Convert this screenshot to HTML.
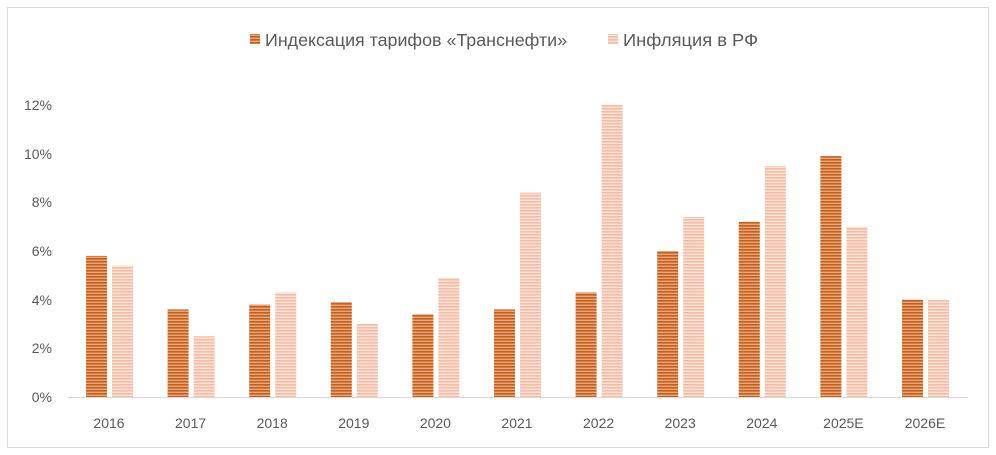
<!DOCTYPE html>
<html><head><meta charset="utf-8"><style>
body{margin:0;background:#fff;}
svg{display:block;font-family:"Liberation Sans","Noto Sans CJK SC",sans-serif;}
</style></head><body>
<svg width="996" height="455" viewBox="0 0 996 455">
<defs>
<pattern id="po" width="4" height="3" patternUnits="userSpaceOnUse">
<rect width="4" height="3" fill="#e9a679"/><rect width="4" height="1.6" fill="#c4611f"/></pattern>
<pattern id="pp" width="4" height="3" patternUnits="userSpaceOnUse">
<rect width="4" height="3" fill="#fbe2d6"/><rect width="4" height="1.6" fill="#f2bca6"/></pattern>
</defs>
<rect x="7.5" y="7.5" width="981" height="440" fill="#fff" stroke="#d9d9d9"/>
<rect x="250" y="34" width="10" height="10" fill="url(#po)"/>
<text x="265" y="46" font-size="17.5" fill="#595959" textLength="302" lengthAdjust="spacingAndGlyphs">Индексация тарифов «Транснефти»</text>
<rect x="608" y="34" width="10" height="10" fill="url(#pp)"/>
<text x="623" y="46" font-size="17.5" fill="#595959" textLength="135" lengthAdjust="spacingAndGlyphs">Инфляция в РФ</text>
<g font-size="14" fill="#595959" text-anchor="end">
<text x="52" y="402">0%</text><text x="52" y="353">2%</text><text x="52" y="305">4%</text>
<text x="52" y="256">6%</text><text x="52" y="207">8%</text><text x="52" y="159">10%</text><text x="52" y="110">12%</text>
</g>
<g fill="url(#po)">
<rect x="86" y="255.9" width="21" height="141.1"/>
<rect x="167.6" y="309.4" width="21" height="87.6"/>
<rect x="249.2" y="304.5" width="21" height="92.5"/>
<rect x="330.8" y="302.1" width="21" height="94.9"/>
<rect x="412.4" y="314.3" width="21" height="82.7"/>
<rect x="494" y="309.4" width="21" height="87.6"/>
<rect x="575.6" y="292.4" width="21" height="104.6"/>
<rect x="657.2" y="251" width="21" height="146"/>
<rect x="738.8" y="221.8" width="21" height="175.2"/>
<rect x="820.4" y="156.1" width="21" height="240.9"/>
<rect x="902" y="299.7" width="21" height="97.3"/>
</g>
<g fill="url(#pp)">
<rect x="112" y="265.6" width="21" height="131.4"/>
<rect x="193.6" y="336.2" width="21" height="60.8"/>
<rect x="275.2" y="292.4" width="21" height="104.6"/>
<rect x="356.8" y="324" width="21" height="73"/>
<rect x="438.4" y="277.8" width="21" height="119.2"/>
<rect x="520" y="192.6" width="21" height="204.4"/>
<rect x="601.6" y="105" width="21" height="292"/>
<rect x="683.2" y="217" width="21" height="180"/>
<rect x="764.8" y="165.9" width="21" height="231.1"/>
<rect x="846.4" y="226.7" width="21" height="170.3"/>
<rect x="928" y="299.7" width="21" height="97.3"/>
</g>
<line x1="68" y1="397.5" x2="968" y2="397.5" stroke="#d9d9d9"/>
<g font-size="14" fill="#595959" text-anchor="middle">
<text x="109" y="428">2016</text><text x="190.6" y="428">2017</text><text x="272.2" y="428">2018</text>
<text x="353.8" y="428">2019</text><text x="435.4" y="428">2020</text><text x="517" y="428">2021</text>
<text x="598.6" y="428">2022</text><text x="680.2" y="428">2023</text><text x="761.8" y="428">2024</text>
<text x="843.4" y="428">2025E</text><text x="925" y="428">2026E</text>
</g>
</svg>
</body></html>
